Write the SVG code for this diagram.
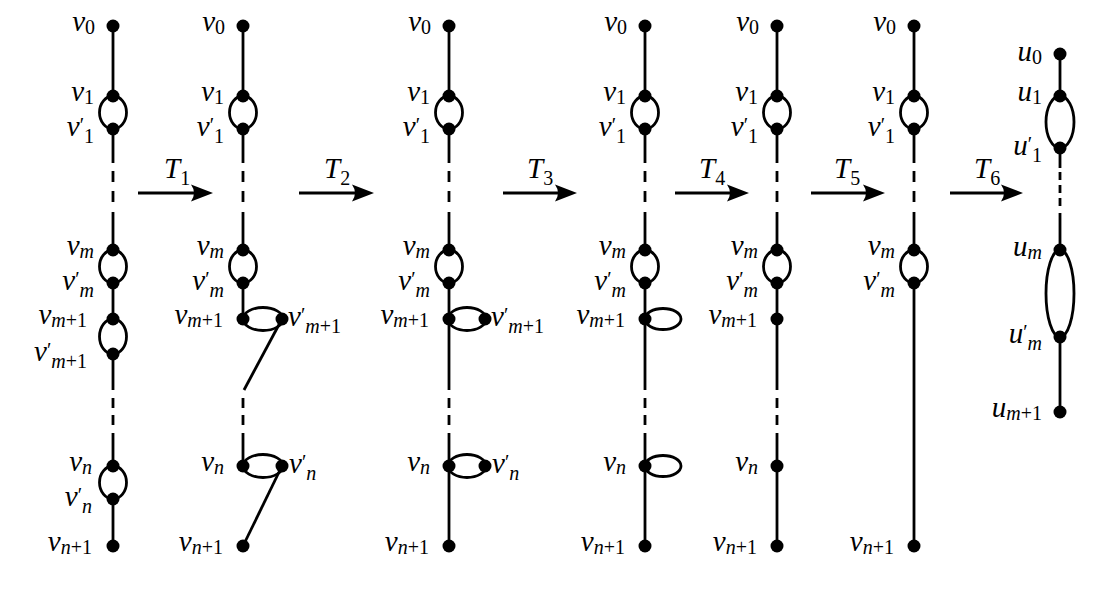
<svg xmlns="http://www.w3.org/2000/svg" width="1110" height="600" viewBox="0 0 1110 600">
<style>
.e{fill:none;stroke:#000;stroke-width:2.8}
.d{stroke:#000;stroke-width:2.8;fill:none}
.da{stroke:#000;stroke-width:2.8;stroke-dasharray:11 9}
.db{stroke:#000;stroke-width:2.8;stroke-dasharray:10 7}
.dc{stroke:#000;stroke-width:2.8;stroke-dasharray:8 5}
.n{fill:#000}
.lb{font-family:"Liberation Serif","DejaVu Serif",serif;font-style:italic;font-size:29px;fill:#000;text-anchor:end}
.rt{text-anchor:start}
.sb{font-size:20px;font-style:normal}
.it{font-style:italic}
.pr{font-size:20px;font-style:normal}
.ar{stroke:#000;stroke-width:3;fill:none;marker-end:url(#ah)}
</style>
<defs>
<marker id="ah" markerUnits="userSpaceOnUse" viewBox="-23 -9 23 18" markerWidth="23" markerHeight="18" refX="-12" refY="0" orient="auto">
<path d="M0,0 L-22,-8.5 Q-16,0 -22,8.5 Z" fill="#000"/>
</marker>
</defs>
<g id="connectors">
<line class="d" x1="113" y1="26" x2="113" y2="96"/>
<line class="d" x1="113" y1="129" x2="113" y2="163"/>
<line class="da" x1="113" y1="171" x2="113" y2="202"/>
<line class="d" x1="113" y1="212" x2="113" y2="250"/>
<line class="d" x1="113" y1="283" x2="113" y2="319"/>
<line class="d" x1="113" y1="354" x2="113" y2="390"/>
<line class="db" x1="113" y1="398" x2="113" y2="425"/>
<line class="d" x1="113" y1="433" x2="113" y2="466"/>
<line class="d" x1="113" y1="499" x2="113" y2="546"/>
<ellipse class="e" cx="113" cy="112.5" rx="13.5" ry="16.5"/>
<ellipse class="e" cx="113" cy="266.5" rx="13.5" ry="16.5"/>
<ellipse class="e" cx="113" cy="336.5" rx="13.5" ry="17.5"/>
<ellipse class="e" cx="113" cy="482.5" rx="13.5" ry="16.5"/>
<line class="d" x1="243" y1="26" x2="243" y2="96"/>
<line class="d" x1="243" y1="129" x2="243" y2="163"/>
<line class="da" x1="243" y1="171" x2="243" y2="202"/>
<line class="d" x1="243" y1="212" x2="243" y2="250"/>
<line class="d" x1="243" y1="283" x2="243" y2="319"/>
<ellipse class="e" cx="243" cy="266.5" rx="13.5" ry="16.5"/>
<ellipse class="e" cx="243" cy="112.5" rx="13.5" ry="16.5"/>
<ellipse class="e" cx="263" cy="319" rx="20" ry="11.5"/>
<line class="d" x1="282" y1="319" x2="244" y2="390"/>
<line class="db" x1="243" y1="398" x2="243" y2="425"/>
<line class="d" x1="243" y1="433" x2="243" y2="466"/>
<ellipse class="e" cx="263" cy="466" rx="20" ry="11.5"/>
<line class="d" x1="282" y1="466" x2="243" y2="546"/>
<line class="d" x1="449" y1="26" x2="449" y2="96"/>
<line class="d" x1="449" y1="129" x2="449" y2="163"/>
<line class="da" x1="449" y1="171" x2="449" y2="202"/>
<line class="d" x1="449" y1="212" x2="449" y2="250"/>
<line class="d" x1="449" y1="283" x2="449" y2="390"/>
<line class="db" x1="449" y1="398" x2="449" y2="425"/>
<line class="d" x1="449" y1="433" x2="449" y2="546"/>
<ellipse class="e" cx="449" cy="112.5" rx="13.5" ry="16.5"/>
<ellipse class="e" cx="449" cy="266.5" rx="13.5" ry="16.5"/>
<ellipse class="e" cx="467" cy="319" rx="19" ry="11.5"/>
<ellipse class="e" cx="467" cy="466" rx="19" ry="11.5"/>
<line class="d" x1="645" y1="26" x2="645" y2="96"/>
<line class="d" x1="645" y1="129" x2="645" y2="163"/>
<line class="da" x1="645" y1="171" x2="645" y2="202"/>
<line class="d" x1="645" y1="212" x2="645" y2="250"/>
<line class="d" x1="645" y1="283" x2="645" y2="390"/>
<line class="db" x1="645" y1="398" x2="645" y2="425"/>
<line class="d" x1="645" y1="433" x2="645" y2="546"/>
<ellipse class="e" cx="645" cy="112.5" rx="13.5" ry="16.5"/>
<ellipse class="e" cx="645" cy="266.5" rx="13.5" ry="16.5"/>
<ellipse class="e" cx="663" cy="319" rx="18" ry="10.5"/>
<ellipse class="e" cx="663" cy="466" rx="18" ry="10.5"/>
<line class="d" x1="777" y1="26" x2="777" y2="96"/>
<line class="d" x1="777" y1="129" x2="777" y2="163"/>
<line class="da" x1="777" y1="171" x2="777" y2="202"/>
<line class="d" x1="777" y1="212" x2="777" y2="250"/>
<line class="d" x1="777" y1="283" x2="777" y2="390"/>
<line class="db" x1="777" y1="398" x2="777" y2="425"/>
<line class="d" x1="777" y1="433" x2="777" y2="546"/>
<ellipse class="e" cx="777" cy="112.5" rx="13.5" ry="16.5"/>
<ellipse class="e" cx="777" cy="266.5" rx="13.5" ry="16.5"/>
<line class="d" x1="914" y1="26" x2="914" y2="96"/>
<line class="d" x1="914" y1="129" x2="914" y2="163"/>
<line class="da" x1="914" y1="171" x2="914" y2="202"/>
<line class="d" x1="914" y1="212" x2="914" y2="250"/>
<line class="d" x1="914" y1="283" x2="914" y2="546"/>
<ellipse class="e" cx="914" cy="112.5" rx="13.5" ry="16.5"/>
<ellipse class="e" cx="914" cy="266.5" rx="13.5" ry="16.5"/>
<line class="d" x1="1060" y1="54" x2="1060" y2="96"/>
<line class="d" x1="1060" y1="148" x2="1060" y2="168"/>
<line class="dc" x1="1060" y1="172" x2="1060" y2="206"/>
<line class="d" x1="1060" y1="213" x2="1060" y2="250"/>
<line class="d" x1="1060" y1="337" x2="1060" y2="412"/>
<ellipse class="e" cx="1060" cy="122" rx="14" ry="26"/>
<ellipse class="e" cx="1060" cy="293.5" rx="14" ry="43.5"/>
<line class="ar" x1="138" y1="193" x2="201" y2="193"/>
<line class="ar" x1="299" y1="193" x2="362" y2="193"/>
<line class="ar" x1="503" y1="193" x2="565" y2="193"/>
<line class="ar" x1="675" y1="193" x2="737" y2="193"/>
<line class="ar" x1="811" y1="193" x2="873" y2="193"/>
<line class="ar" x1="950" y1="193" x2="1011" y2="193"/>
</g>
<g id="transform-labels">
<text class="lb rt" x="164" y="178">T<tspan class="sb" dy="7">1</tspan></text>
<text class="lb rt" x="324" y="178">T<tspan class="sb" dy="7">2</tspan></text>
<text class="lb rt" x="527" y="178">T<tspan class="sb" dy="7">3</tspan></text>
<text class="lb rt" x="699" y="178">T<tspan class="sb" dy="7">4</tspan></text>
<text class="lb rt" x="834" y="178">T<tspan class="sb" dy="7">5</tspan></text>
<text class="lb rt" x="974" y="178">T<tspan class="sb" dy="7">6</tspan></text>
</g>
<g id="c1-v0"><circle class="n" cx="113" cy="26" r="6.5"/><text class="lb" x="95" y="30.5">v<tspan class="sb" dy="3">0</tspan></text></g>
<g id="c1-v1"><circle class="n" cx="113" cy="96" r="6.5"/><text class="lb" x="94" y="100.5">v<tspan class="sb" dy="3">1</tspan></text></g>
<g id="c1-v1p"><circle class="n" cx="113" cy="129" r="6.5"/><text class="lb" x="94" y="135.5">v<tspan class="pr" dy="-4">′</tspan><tspan class="sb" dy="11">1</tspan></text></g>
<g id="c1-vm"><circle class="n" cx="113" cy="250" r="6.5"/><text class="lb" x="94" y="254.5">v<tspan class="sb it" dy="3">m</tspan></text></g>
<g id="c1-vmp"><circle class="n" cx="113" cy="283" r="6.5"/><text class="lb" x="94" y="289.5">v<tspan class="pr" dy="-4">′</tspan><tspan class="sb it" dy="11">m</tspan></text></g>
<g id="c1-vm1"><circle class="n" cx="113" cy="319" r="6.5"/><text class="lb" x="87" y="323.5">v<tspan class="sb" dy="3"><tspan class="it">m</tspan>+1</tspan></text></g>
<g id="c1-vm1p"><circle class="n" cx="113" cy="354" r="6.5"/><text class="lb" x="87" y="360.5">v<tspan class="pr" dy="-4">′</tspan><tspan class="sb" dy="11"><tspan class="it">m</tspan>+1</tspan></text></g>
<g id="c1-vn"><circle class="n" cx="113" cy="466" r="6.5"/><text class="lb" x="92" y="470.5">v<tspan class="sb it" dy="3">n</tspan></text></g>
<g id="c1-vnp"><circle class="n" cx="113" cy="499" r="6.5"/><text class="lb" x="92" y="505.5">v<tspan class="pr" dy="-4">′</tspan><tspan class="sb it" dy="11">n</tspan></text></g>
<g id="c1-vn1"><circle class="n" cx="113" cy="546" r="6.5"/><text class="lb" x="92" y="550.5">v<tspan class="sb" dy="3"><tspan class="it">n</tspan>+1</tspan></text></g>
<g id="c2-v0"><circle class="n" cx="243" cy="26" r="6.5"/><text class="lb" x="225" y="30.5">v<tspan class="sb" dy="3">0</tspan></text></g>
<g id="c2-v1"><circle class="n" cx="243" cy="96" r="6.5"/><text class="lb" x="224" y="100.5">v<tspan class="sb" dy="3">1</tspan></text></g>
<g id="c2-v1p"><circle class="n" cx="243" cy="129" r="6.5"/><text class="lb" x="224" y="135.5">v<tspan class="pr" dy="-4">′</tspan><tspan class="sb" dy="11">1</tspan></text></g>
<g id="c2-vm"><circle class="n" cx="243" cy="250" r="6.5"/><text class="lb" x="224" y="254.5">v<tspan class="sb it" dy="3">m</tspan></text></g>
<g id="c2-vmp"><circle class="n" cx="243" cy="283" r="6.5"/><text class="lb" x="224" y="289.5">v<tspan class="pr" dy="-4">′</tspan><tspan class="sb it" dy="11">m</tspan></text></g>
<g id="c2-vm1"><circle class="n" cx="243" cy="319" r="6.5"/><text class="lb" x="223" y="323.5">v<tspan class="sb" dy="3"><tspan class="it">m</tspan>+1</tspan></text></g>
<g id="c2-vm1p"><circle class="n" cx="282" cy="319" r="6.5"/><text class="lb rt" x="288" y="326">v<tspan class="pr" dy="-4">′</tspan><tspan class="sb" dy="11"><tspan class="it">m</tspan>+1</tspan></text></g>
<g id="c2-vn"><circle class="n" cx="243" cy="466" r="6.5"/><text class="lb" x="224" y="470.5">v<tspan class="sb it" dy="3">n</tspan></text></g>
<g id="c2-vnp"><circle class="n" cx="282" cy="466" r="6.5"/><text class="lb rt" x="289" y="473">v<tspan class="pr" dy="-4">′</tspan><tspan class="sb it" dy="11">n</tspan></text></g>
<g id="c2-vn1"><circle class="n" cx="243" cy="546" r="6.5"/><text class="lb" x="223" y="550.5">v<tspan class="sb" dy="3"><tspan class="it">n</tspan>+1</tspan></text></g>
<g id="c3-v0"><circle class="n" cx="449" cy="26" r="6.5"/><text class="lb" x="431" y="30.5">v<tspan class="sb" dy="3">0</tspan></text></g>
<g id="c3-v1"><circle class="n" cx="449" cy="96" r="6.5"/><text class="lb" x="430" y="100.5">v<tspan class="sb" dy="3">1</tspan></text></g>
<g id="c3-v1p"><circle class="n" cx="449" cy="129" r="6.5"/><text class="lb" x="430" y="135.5">v<tspan class="pr" dy="-4">′</tspan><tspan class="sb" dy="11">1</tspan></text></g>
<g id="c3-vm"><circle class="n" cx="449" cy="250" r="6.5"/><text class="lb" x="430" y="254.5">v<tspan class="sb it" dy="3">m</tspan></text></g>
<g id="c3-vmp"><circle class="n" cx="449" cy="283" r="6.5"/><text class="lb" x="430" y="289.5">v<tspan class="pr" dy="-4">′</tspan><tspan class="sb it" dy="11">m</tspan></text></g>
<g id="c3-vm1"><circle class="n" cx="449" cy="319" r="6.5"/><text class="lb" x="429" y="323.5">v<tspan class="sb" dy="3"><tspan class="it">m</tspan>+1</tspan></text></g>
<g id="c3-vm1p"><circle class="n" cx="485" cy="319" r="6.5"/><text class="lb rt" x="491" y="326">v<tspan class="pr" dy="-4">′</tspan><tspan class="sb" dy="11"><tspan class="it">m</tspan>+1</tspan></text></g>
<g id="c3-vn"><circle class="n" cx="449" cy="466" r="6.5"/><text class="lb" x="430" y="470.5">v<tspan class="sb it" dy="3">n</tspan></text></g>
<g id="c3-vnp"><circle class="n" cx="485" cy="466" r="6.5"/><text class="lb rt" x="492" y="473">v<tspan class="pr" dy="-4">′</tspan><tspan class="sb it" dy="11">n</tspan></text></g>
<g id="c3-vn1"><circle class="n" cx="449" cy="546" r="6.5"/><text class="lb" x="429" y="550.5">v<tspan class="sb" dy="3"><tspan class="it">n</tspan>+1</tspan></text></g>
<g id="c4-v0"><circle class="n" cx="645" cy="26" r="6.5"/><text class="lb" x="627" y="30.5">v<tspan class="sb" dy="3">0</tspan></text></g>
<g id="c4-v1"><circle class="n" cx="645" cy="96" r="6.5"/><text class="lb" x="626" y="100.5">v<tspan class="sb" dy="3">1</tspan></text></g>
<g id="c4-v1p"><circle class="n" cx="645" cy="129" r="6.5"/><text class="lb" x="626" y="135.5">v<tspan class="pr" dy="-4">′</tspan><tspan class="sb" dy="11">1</tspan></text></g>
<g id="c4-vm"><circle class="n" cx="645" cy="250" r="6.5"/><text class="lb" x="626" y="254.5">v<tspan class="sb it" dy="3">m</tspan></text></g>
<g id="c4-vmp"><circle class="n" cx="645" cy="283" r="6.5"/><text class="lb" x="626" y="289.5">v<tspan class="pr" dy="-4">′</tspan><tspan class="sb it" dy="11">m</tspan></text></g>
<g id="c4-vm1"><circle class="n" cx="645" cy="319" r="6.5"/><text class="lb" x="625" y="323.5">v<tspan class="sb" dy="3"><tspan class="it">m</tspan>+1</tspan></text></g>
<g id="c4-vn"><circle class="n" cx="645" cy="466" r="6.5"/><text class="lb" x="626" y="470.5">v<tspan class="sb it" dy="3">n</tspan></text></g>
<g id="c4-vn1"><circle class="n" cx="645" cy="546" r="6.5"/><text class="lb" x="625" y="550.5">v<tspan class="sb" dy="3"><tspan class="it">n</tspan>+1</tspan></text></g>
<g id="c5-v0"><circle class="n" cx="777" cy="26" r="6.5"/><text class="lb" x="759" y="30.5">v<tspan class="sb" dy="3">0</tspan></text></g>
<g id="c5-v1"><circle class="n" cx="777" cy="96" r="6.5"/><text class="lb" x="758" y="100.5">v<tspan class="sb" dy="3">1</tspan></text></g>
<g id="c5-v1p"><circle class="n" cx="777" cy="129" r="6.5"/><text class="lb" x="758" y="135.5">v<tspan class="pr" dy="-4">′</tspan><tspan class="sb" dy="11">1</tspan></text></g>
<g id="c5-vm"><circle class="n" cx="777" cy="250" r="6.5"/><text class="lb" x="758" y="254.5">v<tspan class="sb it" dy="3">m</tspan></text></g>
<g id="c5-vmp"><circle class="n" cx="777" cy="283" r="6.5"/><text class="lb" x="758" y="289.5">v<tspan class="pr" dy="-4">′</tspan><tspan class="sb it" dy="11">m</tspan></text></g>
<g id="c5-vm1"><circle class="n" cx="777" cy="319" r="6.5"/><text class="lb" x="757" y="323.5">v<tspan class="sb" dy="3"><tspan class="it">m</tspan>+1</tspan></text></g>
<g id="c5-vn"><circle class="n" cx="777" cy="466" r="6.5"/><text class="lb" x="758" y="470.5">v<tspan class="sb it" dy="3">n</tspan></text></g>
<g id="c5-vn1"><circle class="n" cx="777" cy="546" r="6.5"/><text class="lb" x="757" y="550.5">v<tspan class="sb" dy="3"><tspan class="it">n</tspan>+1</tspan></text></g>
<g id="c6-v0"><circle class="n" cx="914" cy="26" r="6.5"/><text class="lb" x="896" y="30.5">v<tspan class="sb" dy="3">0</tspan></text></g>
<g id="c6-v1"><circle class="n" cx="914" cy="96" r="6.5"/><text class="lb" x="895" y="100.5">v<tspan class="sb" dy="3">1</tspan></text></g>
<g id="c6-v1p"><circle class="n" cx="914" cy="129" r="6.5"/><text class="lb" x="895" y="135.5">v<tspan class="pr" dy="-4">′</tspan><tspan class="sb" dy="11">1</tspan></text></g>
<g id="c6-vm"><circle class="n" cx="914" cy="250" r="6.5"/><text class="lb" x="895" y="254.5">v<tspan class="sb it" dy="3">m</tspan></text></g>
<g id="c6-vmp"><circle class="n" cx="914" cy="283" r="6.5"/><text class="lb" x="895" y="289.5">v<tspan class="pr" dy="-4">′</tspan><tspan class="sb it" dy="11">m</tspan></text></g>
<g id="c6-vn1"><circle class="n" cx="914" cy="546" r="6.5"/><text class="lb" x="894" y="550.5">v<tspan class="sb" dy="3"><tspan class="it">n</tspan>+1</tspan></text></g>
<g id="c7-u0"><circle class="n" cx="1060" cy="54" r="6.5"/><text class="lb" x="1042" y="61">u<tspan class="sb" dy="3">0</tspan></text></g>
<g id="c7-u1"><circle class="n" cx="1060" cy="96" r="6.5"/><text class="lb" x="1042" y="100.5">u<tspan class="sb" dy="3">1</tspan></text></g>
<g id="c7-u1p"><circle class="n" cx="1060" cy="148" r="6.5"/><text class="lb" x="1042" y="155">u<tspan class="pr" dy="-4">′</tspan><tspan class="sb" dy="11">1</tspan></text></g>
<g id="c7-um"><circle class="n" cx="1060" cy="250" r="6.5"/><text class="lb" x="1042" y="256">u<tspan class="sb it" dy="3">m</tspan></text></g>
<g id="c7-ump"><circle class="n" cx="1060" cy="337" r="6.5"/><text class="lb" x="1042" y="343">u<tspan class="pr" dy="-4">′</tspan><tspan class="sb it" dy="11">m</tspan></text></g>
<g id="c7-um1"><circle class="n" cx="1060" cy="412" r="6.5"/><text class="lb" x="1042" y="417">u<tspan class="sb" dy="3"><tspan class="it">m</tspan>+1</tspan></text></g>
</svg>
